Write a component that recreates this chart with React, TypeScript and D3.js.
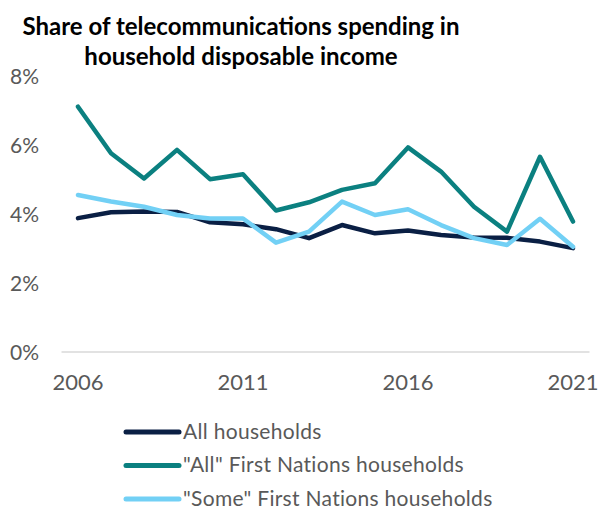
import React from "react";
import * as d3 from "d3";

const years = [2006, 2007, 2008, 2009, 2010, 2011, 2012, 2013, 2014, 2015, 2016, 2017, 2018, 2019, 2020, 2021];
const allHouseholds = [3.88, 4.05, 4.07, 4.06, 3.76, 3.70, 3.56, 3.30, 3.68, 3.44, 3.52, 3.39, 3.32, 3.31, 3.20, 3.01];
const allFirstNations = [7.11, 5.76, 5.03, 5.86, 5.01, 5.15, 4.10, 4.34, 4.70, 4.89, 5.93, 5.23, 4.21, 3.49, 5.66, 3.78];
const someFirstNations = [4.55, 4.36, 4.21, 3.97, 3.87, 3.87, 3.17, 3.49, 4.36, 3.97, 4.14, 3.68, 3.30, 3.10, 3.86, 3.05];
const yTicks = [0, 2, 4, 6, 8];
const xTickYears = [2006, 2011, 2016, 2021];
const seriesNames = ["All households", "\"All\" First Nations households", "\"Some\" First Nations households"];
const seriesColors = ["#0a1f44", "#0b8080", "#72d0f5"];
const titleLines = ["Share of telecommunications spending in", "household disposable income"];

const W = 598;
const H = 510;
const FONT = "Lato, 'Open Sans', sans-serif";

export default function App() {
  const x = d3.scaleLinear().domain([2006, 2021]).range([78, 573]);
  const step = 33;
  const y = d3.scaleLinear().domain([0, 8]).range([352, 76]);
  const line = d3
    .line<number>()
    .x((_, i) => x(years[i]))
    .y((d) => y(d));
  const series = [allHouseholds, allFirstNations, someFirstNations];

  return (
    <svg width={W} height={H} style={{ position: "absolute", left: 0, top: 0, background: "#fff" }} fontFamily={FONT}>
      {titleLines.map((t, i) => (
        <text key={t} x={241} y={35 + i * 30} textAnchor="middle" fontWeight="bold" fontSize={24} fill="#000">
          {t}
        </text>
      ))}
      {yTicks.map((t) => (
        <text key={t} x={39} y={y(t) + 7.5} textAnchor="end" fontSize={21} fill="#595959">
          {`${t}%`}
        </text>
      ))}
      <line x1={x(2006) - step / 2} x2={x(2021) + step / 2} y1={y(0)} y2={y(0)} stroke="#d9d9d9" strokeWidth={1.5} />
      {xTickYears.map((yr) => (
        <text key={yr} x={x(yr)} y={390} textAnchor="middle" fontSize={22} fill="#595959">
          {yr}
        </text>
      ))}
      {series.map((s, i) => (
        <path
          key={i}
          d={line(s) || ""}
          fill="none"
          stroke={seriesColors[i]}
          strokeWidth={4.5}
          strokeLinecap="round"
          strokeLinejoin="round"
        />
      ))}
      {seriesNames.map((n, i) => (
        <g key={n} transform={`translate(0, ${432 + i * 33.5})`}>
          <line x1={126} x2={179} y1={0} y2={0} stroke={seriesColors[i]} strokeWidth={5} strokeLinecap="round" />
          <text x={183} y={6.5} fontSize={21} letterSpacing={0.3} fill="#595959">
            {n}
          </text>
        </g>
      ))}
    </svg>
  );
}
